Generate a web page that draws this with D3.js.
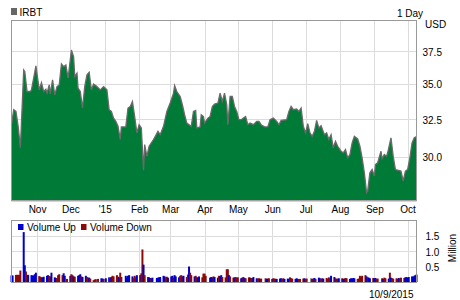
<!DOCTYPE html>
<html><head><meta charset="utf-8">
<script src="https://cdn.jsdelivr.net/npm/d3@7"></script>
<style>
body{margin:0;background:#fff;}
text{font-family:Arial,"Liberation Sans",sans-serif;font-size:10px;fill:#000;}
</style>
</head><body><svg id="c" width="460" height="300"></svg>
<script>
// ---------- DATA ----------
const ticker = "IRBT";
const period = "1 Day";
const currency = "USD";
const lastDate = "10/9/2015";
const monthLabels = ["Nov","Dec","'15","Feb","Mar","Apr","May","Jun","Jul","Aug","Sep","Oct"];
const priceTicks = [30, 32.5, 35, 37.5];
const volTicks = [0.5, 1.0, 1.5];
const holidays = ["2014-11-27","2014-12-25","2015-01-01","2015-01-19","2015-02-16","2015-04-03","2015-05-25","2015-07-03","2015-09-07"];

const priceDates = ["2014-10-09","2014-10-11","2014-10-13","2014-10-15","2014-10-17","2014-10-20","2014-10-21","2014-10-23","2014-10-26","2014-10-27","2014-10-31",
"2014-11-03","2014-11-05","2014-11-07","2014-11-09","2014-11-10","2014-11-12","2014-11-13","2014-11-15","2014-11-17","2014-11-19","2014-11-21","2014-11-23","2014-11-25","2014-11-27","2014-11-29",
"2014-12-02","2014-12-04","2014-12-05","2014-12-07","2014-12-08","2014-12-10","2014-12-12","2014-12-14","2014-12-16","2014-12-18","2014-12-20","2014-12-22","2014-12-25","2014-12-28","2014-12-31",
"2015-01-03","2015-01-05","2015-01-07","2015-01-09","2015-01-11","2015-01-13","2015-01-15","2015-01-16","2015-01-20","2015-01-22","2015-01-24","2015-01-26","2015-01-28","2015-01-30",
"2015-02-01","2015-02-03","2015-02-05","2015-02-06","2015-02-08","2015-02-10","2015-02-14","2015-02-18","2015-02-20","2015-02-23","2015-02-26",
"2015-03-01","2015-03-04","2015-03-05","2015-03-07","2015-03-10","2015-03-12","2015-03-14","2015-03-16","2015-03-18","2015-03-20","2015-03-22","2015-03-24","2015-03-25","2015-03-28","2015-03-29","2015-03-31",
"2015-04-01","2015-04-04","2015-04-06","2015-04-08","2015-04-10","2015-04-13","2015-04-15","2015-04-17","2015-04-19","2015-04-21","2015-04-22","2015-04-24","2015-04-26","2015-04-28","2015-04-30",
"2015-05-02","2015-05-04","2015-05-06","2015-05-08","2015-05-10","2015-05-12","2015-05-15","2015-05-18","2015-05-20","2015-05-22","2015-05-25","2015-05-28","2015-05-30",
"2015-06-02","2015-06-05","2015-06-07","2015-06-09","2015-06-14","2015-06-16","2015-06-18","2015-06-20","2015-06-23","2015-06-25","2015-06-27","2015-06-29",
"2015-07-01","2015-07-03","2015-07-05","2015-07-07","2015-07-09","2015-07-11","2015-07-13","2015-07-15","2015-07-18","2015-07-20","2015-07-22","2015-07-24","2015-07-26","2015-07-28","2015-07-30",
"2015-08-02","2015-08-04","2015-08-06","2015-08-08","2015-08-10","2015-08-12","2015-08-14","2015-08-17","2015-08-19","2015-08-21","2015-08-23","2015-08-25","2015-08-26","2015-08-28","2015-08-30",
"2015-09-01","2015-09-02","2015-09-04","2015-09-07","2015-09-08","2015-09-10","2015-09-12","2015-09-13","2015-09-16","2015-09-18","2015-09-20","2015-09-22","2015-09-25","2015-09-27","2015-09-29",
"2015-10-01","2015-10-03","2015-10-05","2015-10-07","2015-10-09"];
const prices = [32.10,33.13,33.01,31.99,30.57,36.03,35.90,34.43,34.43,34.55,36.34,
34.55,35.08,34.43,34.60,34.31,34.91,34.26,35.28,34.19,34.79,34.91,36.49,36.28,36.41,35.41,
37.58,37.05,35.53,35.78,34.67,34.43,33.25,34.79,35.66,35.86,34.55,34.97,34.79,34.55,34.79,
34.55,33.13,33.01,32.55,32.33,31.99,31.11,31.95,31.95,33.25,33.36,33.71,32.66,31.55,
32.10,31.88,29.15,30.78,30.03,30.67,31.11,31.65,31.43,31.99,33.01,
33.60,34.31,34.86,34.43,34.07,33.48,32.78,32.21,32.10,31.99,33.01,33.08,31.88,31.95,32.78,32.66,
32.21,32.55,32.66,33.36,33.53,33.60,34.31,33.71,34.31,33.48,32.10,34.07,34.07,33.36,33.01,
32.44,32.44,32.55,32.66,32.10,32.21,32.10,32.33,32.33,32.10,31.95,31.95,32.44,
32.55,32.33,32.10,32.39,32.44,33.01,33.36,33.13,33.18,33.01,33.25,31.99,
31.55,32.17,31.55,31.32,31.65,32.39,31.88,32.03,31.43,31.55,31.11,31.43,30.57,31.00,30.67,
30.35,30.25,30.46,29.93,30.14,30.89,31.32,31.15,30.67,29.93,29.00,27.81,27.91,29.00,29.20,
28.80,29.51,29.62,30.35,29.87,30.14,30.03,30.25,31.22,30.03,29.20,29.16,29.10,28.50,29.10,
29.20,29.93,30.89,31.22,31.30];

// daily volume (millions) per month, with direction: u = up, d = down, n = unchanged
const volOct14 = [0.21,0.21,0.23,0.23,0.23,0.23,0.37,1.61,0.54,0.34,0.23,0.23,0.22,0.21,0.21,0.25,0.30];
const dirOct14 = "uuddddduudduuuuuu";
const volNov14 = [0.19,0.17,0.15,0.15,0.17,0.20,0.22,0.19,0.18,0.30,0.15,0.13,0.12,0.22,0.25,0.22,0.28,0.20,0.10];
const dirNov14 = "ddduuuudduuudddduud";
const volDec14 = [0.20,0.25,0.22,0.18,0.17,0.20,0.22,0.25,0.18,0.16,0.20,0.16,0.14,0.14,0.11,0.06,0.08,0.09,0.10,0.12,0.11,0.10];
const dirDec14 = "udduduuuduudduddddduud";
const volJan15 = [0.12,0.15,0.14,0.16,0.20,0.18,0.22,0.17,0.15,0.30,0.16,0.20,0.14,0.20,0.22,0.18,0.12,0.20,0.15,0.22];
const dirJan15 = "uududdddudduuuuudddu";
const volFeb15 = [0.22,0.28,1.05,0.56,0.22,0.16,0.15,0.13,0.12,0.14,0.13,0.14,0.15,0.16,0.20,0.18,0.15,0.17,0.14];
const dirFeb15 = "uddudduuduuuuuuuddu";
const volMar15 = [0.18,0.20,0.15,0.22,0.18,0.15,0.20,0.22,0.18,0.20,0.16,0.24,0.50,0.30,0.22,0.18,0.20,0.16,0.14,0.18,0.15,0.27];
const dirMar15 = "uuduuudddudduddudduudd";
const volApr15 = [0.27,0.20,0.14,0.16,0.15,0.18,0.16,0.14,0.20,0.18,0.22,0.16,0.15,0.41,0.41,0.22,0.18,0.14,0.15,0.16,0.14];
const dirApr15 = "dduuuduuduudddduddudd";
const volMay15 = [0.15,0.12,0.14,0.16,0.13,0.12,0.15,0.14,0.13,0.12,0.16,0.12,0.11,0.12,0.10,0.11,0.12,0.10,0.11,0.12];
const dirMay15 = "duududdudduuddudduud";
const volJun15 = [0.10,0.12,0.11,0.10,0.10,0.11,0.12,0.10,0.12,0.10,0.11,0.10,0.15,0.12,0.11,0.10,0.12,0.10,0.09,0.10,0.11,0.12];
const dirJun15 = "uddduuudduuuddduuudddu";
const volJul15 = [0.10,0.11,0.12,0.10,0.11,0.13,0.10,0.14,0.12,0.10,0.12,0.11,0.13,0.10,0.15,0.12,0.20,0.16,0.12,0.10,0.11,0.12];
const dirJul15 = "ddnududuuddudddduudddu";
const volAug15 = [0.12,0.10,0.11,0.13,0.12,0.10,0.12,0.11,0.13,0.12,0.10,0.11,0.20,0.16,0.20,0.22,0.18,0.15,0.14,0.12,0.13];
const dirAug15 = "duudduuuuudddddduduud";
const volSep15 = [0.12,0.13,0.10,0.11,0.12,0.10,0.14,0.12,0.11,0.30,0.14,0.12,0.11,0.12,0.10,0.13,0.12,0.14,0.13,0.15,0.16];
const dirSep15 = "uuddduddududddduddduu";
const volOct15 = [0.14,0.16,0.18,0.17,0.20,0.22,0.24];
const dirOct15 = "uuuuuuu";

// ---------- BUILD ----------
const parse = d3.timeParse("%Y-%m-%d");
const fmt = d3.timeFormat("%Y-%m-%d");
const startDate = parse("2014-10-09"), endDate = parse("2015-10-09");
const hol = new Set(holidays);
const tradingDays = d3.timeDay.range(startDate, d3.timeDay.offset(endDate, 1))
  .filter(d => d.getDay() !== 0 && d.getDay() !== 6 && !hol.has(fmt(d)));
const vols = [].concat(volOct14,volNov14,volDec14,volJan15,volFeb15,volMar15,volApr15,volMay15,volJun15,volJul15,volAug15,volSep15,volOct15);
const dirs = (dirOct14+dirNov14+dirDec14+dirJan15+dirFeb15+dirMar15+dirApr15+dirMay15+dirJun15+dirJul15+dirAug15+dirSep15+dirOct15).split("");
const volData = tradingDays.map((d,i) => ({date:d, v:vols[i] || 0, dir:dirs[i] || "u"}));
const priceData = priceDates.map((d,i) => ({date:parse(d), p:prices[i]}));

const svg = d3.select("#c");
const L = 11.5, R = 416.5;
const P = {top:20.5, bottom:200.5};
const V = {top:220.5, bottom:282.5};

const x = d3.scaleTime().domain([startDate, endDate]).range([L, R]);
const y = d3.scaleLog().domain([27.35, 40]).range([P.bottom, P.top]);
const yv = d3.scaleLinear().domain([0, 2.0]).range([282, 220]);
const months = d3.timeMonth.range(d3.timeMonth.ceil(startDate), endDate);

const grid = "#dcdcdc";
// price gridlines
const gp = svg.append("g");
gp.selectAll("line.v").data(months).join("line")
  .attr("x1", d => Math.round(x(d))+0.5).attr("x2", d => Math.round(x(d))+0.5)
  .attr("y1", P.top).attr("y2", P.bottom).attr("stroke", grid);
gp.selectAll("line.h").data(priceTicks).join("line")
  .attr("x1", L).attr("x2", R)
  .attr("y1", d => Math.round(y(d))+0.5).attr("y2", d => Math.round(y(d))+0.5).attr("stroke", grid);

// price area
const area = d3.area().x(d => x(d.date)).y0(P.bottom).y1(d => y(d.p));
const line = d3.line().x(d => x(d.date)).y(d => y(d.p));
svg.append("path").datum(priceData).attr("d", area).attr("fill", "#007a37");
svg.append("path").datum(priceData).attr("d", line).attr("fill", "none").attr("stroke", "#6a6a6a").attr("stroke-width", 1.3);

// frame
svg.append("rect").attr("x", L).attr("y", P.top).attr("width", R-L).attr("height", P.bottom-P.top)
  .attr("fill", "none").attr("stroke", "#999");
svg.append("line").attr("x1", L).attr("x2", R).attr("y1", P.bottom+0.5).attr("y2", P.bottom+0.5).attr("stroke", "#aaa");

// y axis labels (price)
const ya = d3.axisRight(y).tickValues(priceTicks).tickFormat(d3.format(".1f")).tickSize(0).tickPadding(0);
svg.append("g").attr("transform", `translate(${R+6},1)`).call(ya)
  .call(g => g.select(".domain").remove())
  .call(g => g.selectAll("text").style("font-family","Arial, 'Liberation Sans', sans-serif").style("font-size","10px").attr("fill","#000"));

// x axis month labels
const xa = d3.axisBottom(x).tickValues(months).tickFormat((d,i) => monthLabels[i]).tickSize(0).tickPadding(0);
svg.append("g").attr("transform", `translate(0,${206})`).call(xa)
  .call(g => g.select(".domain").remove())
  .call(g => g.selectAll("text").style("font-family","Arial, 'Liberation Sans', sans-serif").style("font-size","10px").attr("fill","#000"));

// header
svg.append("rect").attr("x", 11).attr("y", 8).attr("width", 6).attr("height", 7).attr("fill", "#666");
svg.append("text").attr("x", 19.5).attr("y", 16).text(ticker);
svg.append("text").attr("x", 423).attr("y", 17).attr("text-anchor", "end").text(period);
svg.append("text").attr("x", 425).attr("y", 28).text(currency);

// volume panel
const gv = svg.append("g");
gv.selectAll("line.v").data(months).join("line")
  .attr("x1", d => Math.round(x(d))+0.5).attr("x2", d => Math.round(x(d))+0.5)
  .attr("y1", V.top).attr("y2", V.bottom).attr("stroke", grid);
gv.selectAll("line.h").data(volTicks).join("line")
  .attr("x1", L).attr("x2", R)
  .attr("y1", d => Math.round(yv(d))+0.5).attr("y2", d => Math.round(yv(d))+0.5).attr("stroke", grid);

const bw = 2.0;
const colors = {u:"#0000cc", d:"#8b0a0a", n:"#808080"};
gv.selectAll("rect.bar").data(volData).join("rect")
  .attr("x", d => x(d.date) - bw/2).attr("width", bw)
  .attr("y", d => yv(d.v)).attr("height", d => yv(0) - yv(d.v))
  .attr("fill", d => colors[d.dir]);

svg.append("rect").attr("x", L).attr("y", V.top).attr("width", R-L).attr("height", V.bottom-V.top)
  .attr("fill", "none").attr("stroke", "#999");

const yva = d3.axisRight(yv).tickValues(volTicks).tickFormat(d3.format(".1f")).tickSize(0).tickPadding(0);
svg.append("g").attr("transform", `translate(${R+9},1)`).call(yva)
  .call(g => g.select(".domain").remove())
  .call(g => g.selectAll("text").style("font-family","Arial, 'Liberation Sans', sans-serif").style("font-size","10px").attr("fill","#000"));

svg.append("text").attr("transform", "translate(455.5,248) rotate(-90)").attr("text-anchor", "middle").text("Million");

// legend
svg.append("rect").attr("x", 18).attr("y", 224).attr("width", 5.5).attr("height", 6).attr("fill", colors.u);
svg.append("text").attr("x", 27).attr("y", 231).text("Volume Up");
svg.append("rect").attr("x", 81).attr("y", 224).attr("width", 5.5).attr("height", 6).attr("fill", colors.d);
svg.append("text").attr("x", 90).attr("y", 231).text("Volume Down");

svg.append("text").attr("x", 413.5).attr("y", 298).attr("text-anchor", "end").text(lastDate);
</script>
</body></html>
